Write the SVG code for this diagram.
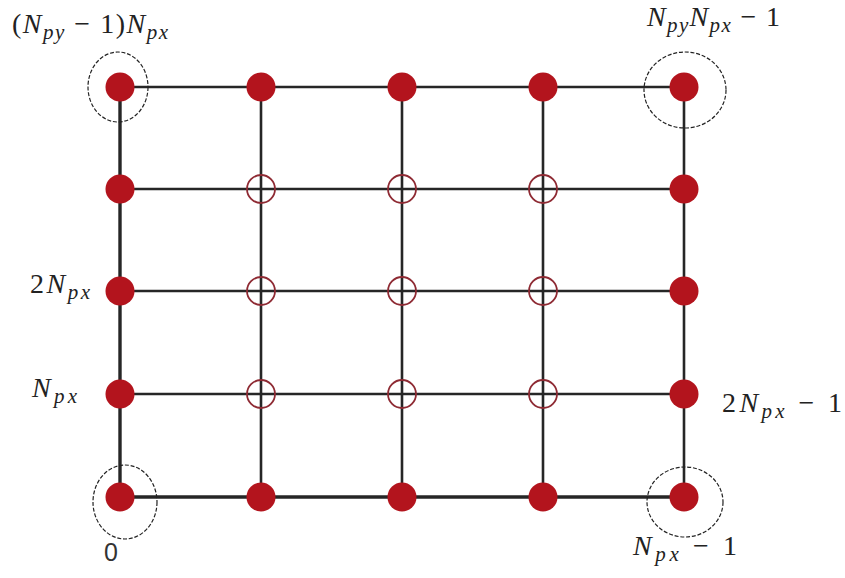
<svg xmlns="http://www.w3.org/2000/svg" width="845" height="578" viewBox="0 0 845 578">
<style>
.ln{stroke:#262626;stroke-width:2.6;fill:none}
.lnb{stroke:#262626;stroke-width:3.4;fill:none}
.f{fill:#b3141d}
.h{fill:none;stroke:#8e2a33;stroke-width:1.8}
.d{fill:none;stroke:#222;stroke-width:1.2;stroke-dasharray:4 1.8}
.t{font-family:"Liberation Serif","DejaVu Serif",serif;font-size:28px;fill:#222}
.i{font-style:italic}
.s{font-size:21px;font-style:italic}
.z{font-family:"Liberation Sans","DejaVu Sans",sans-serif;font-size:25px;fill:#333}
</style>
<rect width="845" height="578" fill="#fff"/>
<g id="connectors">
<line class="ln" x1="120" y1="87" x2="684" y2="87"/>
<line class="ln" x1="120" y1="189" x2="684" y2="189"/>
<line class="ln" x1="120" y1="291" x2="684" y2="291"/>
<line class="ln" x1="120" y1="394" x2="684" y2="394"/>
<line class="lnb" x1="120" y1="497" x2="684" y2="497"/>
<line class="lnb" x1="120" y1="87" x2="120" y2="497"/>
<line class="ln" x1="261" y1="87" x2="261" y2="497"/>
<line class="ln" x1="402" y1="87" x2="402" y2="497"/>
<line class="ln" x1="543" y1="87" x2="543" y2="497"/>
<line class="ln" x1="684" y1="87" x2="684" y2="497"/>
</g>
<g id="nodes-top">
<circle class="f" cx="120" cy="87" r="14.5"/>
<circle class="f" cx="261" cy="87" r="14.5"/>
<circle class="f" cx="402" cy="87" r="14.5"/>
<circle class="f" cx="543" cy="87" r="14.5"/>
<circle class="f" cx="684" cy="87" r="14.5"/>
</g>
<g id="nodes-bottom">
<circle class="f" cx="120" cy="497" r="14.5"/>
<circle class="f" cx="261" cy="497" r="14.5"/>
<circle class="f" cx="402" cy="497" r="14.5"/>
<circle class="f" cx="543" cy="497" r="14.5"/>
<circle class="f" cx="684" cy="497" r="14.5"/>
</g>
<g id="nodes-left">
<circle class="f" cx="120" cy="189" r="14.5"/>
<circle class="f" cx="120" cy="291" r="14.5"/>
<circle class="f" cx="120" cy="394" r="14.5"/>
</g>
<g id="nodes-right">
<circle class="f" cx="684" cy="189" r="14.5"/>
<circle class="f" cx="684" cy="291" r="14.5"/>
<circle class="f" cx="684" cy="394" r="14.5"/>
</g>
<g id="nodes-interior">
<circle class="h" cx="261" cy="189" r="14"/>
<circle class="h" cx="402" cy="189" r="14"/>
<circle class="h" cx="543" cy="189" r="14"/>
<circle class="h" cx="261" cy="291" r="14"/>
<circle class="h" cx="402" cy="291" r="14"/>
<circle class="h" cx="543" cy="291" r="14"/>
<circle class="h" cx="261" cy="394" r="14"/>
<circle class="h" cx="402" cy="394" r="14"/>
<circle class="h" cx="543" cy="394" r="14"/>
</g>
<g id="corner-marks">
<ellipse class="d" cx="118" cy="87" rx="30" ry="35"/>
<ellipse class="d" cx="685" cy="90" rx="41" ry="38"/>
<ellipse class="d" cx="685" cy="502" rx="38" ry="35"/>
<ellipse class="d" cx="125" cy="502" rx="32" ry="37"/>
</g>
<g id="labels">
<text class="t" x="12" y="33" textLength="156" lengthAdjust="spacing">(<tspan class="i">N</tspan><tspan class="s" dy="6">py</tspan><tspan dy="-6"> − 1)</tspan><tspan class="i">N</tspan><tspan class="s" dy="6">px</tspan></text>
<text class="t" x="647" y="26" textLength="133" lengthAdjust="spacing"><tspan class="i">N</tspan><tspan class="s" dy="6">py</tspan><tspan class="i" dy="-6">N</tspan><tspan class="s" dy="6">px</tspan><tspan dy="-6"> − 1</tspan></text>
<text class="t" x="30" y="293" textLength="60" lengthAdjust="spacing">2<tspan class="i">N</tspan><tspan class="s" dy="6">px</tspan></text>
<text class="t" x="32" y="397" textLength="45" lengthAdjust="spacing"><tspan class="i">N</tspan><tspan class="s" dy="6">px</tspan></text>
<text class="t" x="722" y="412" textLength="120" lengthAdjust="spacing">2<tspan class="i">N</tspan><tspan class="s" dy="6">px</tspan><tspan dy="-6"> − 1</tspan></text>
<text class="t" x="633" y="555" textLength="104" lengthAdjust="spacing"><tspan class="i">N</tspan><tspan class="s" dy="6">px</tspan><tspan dy="-6"> − 1</tspan></text>
<text class="z" x="104" y="561">0</text>
</g>
</svg>
